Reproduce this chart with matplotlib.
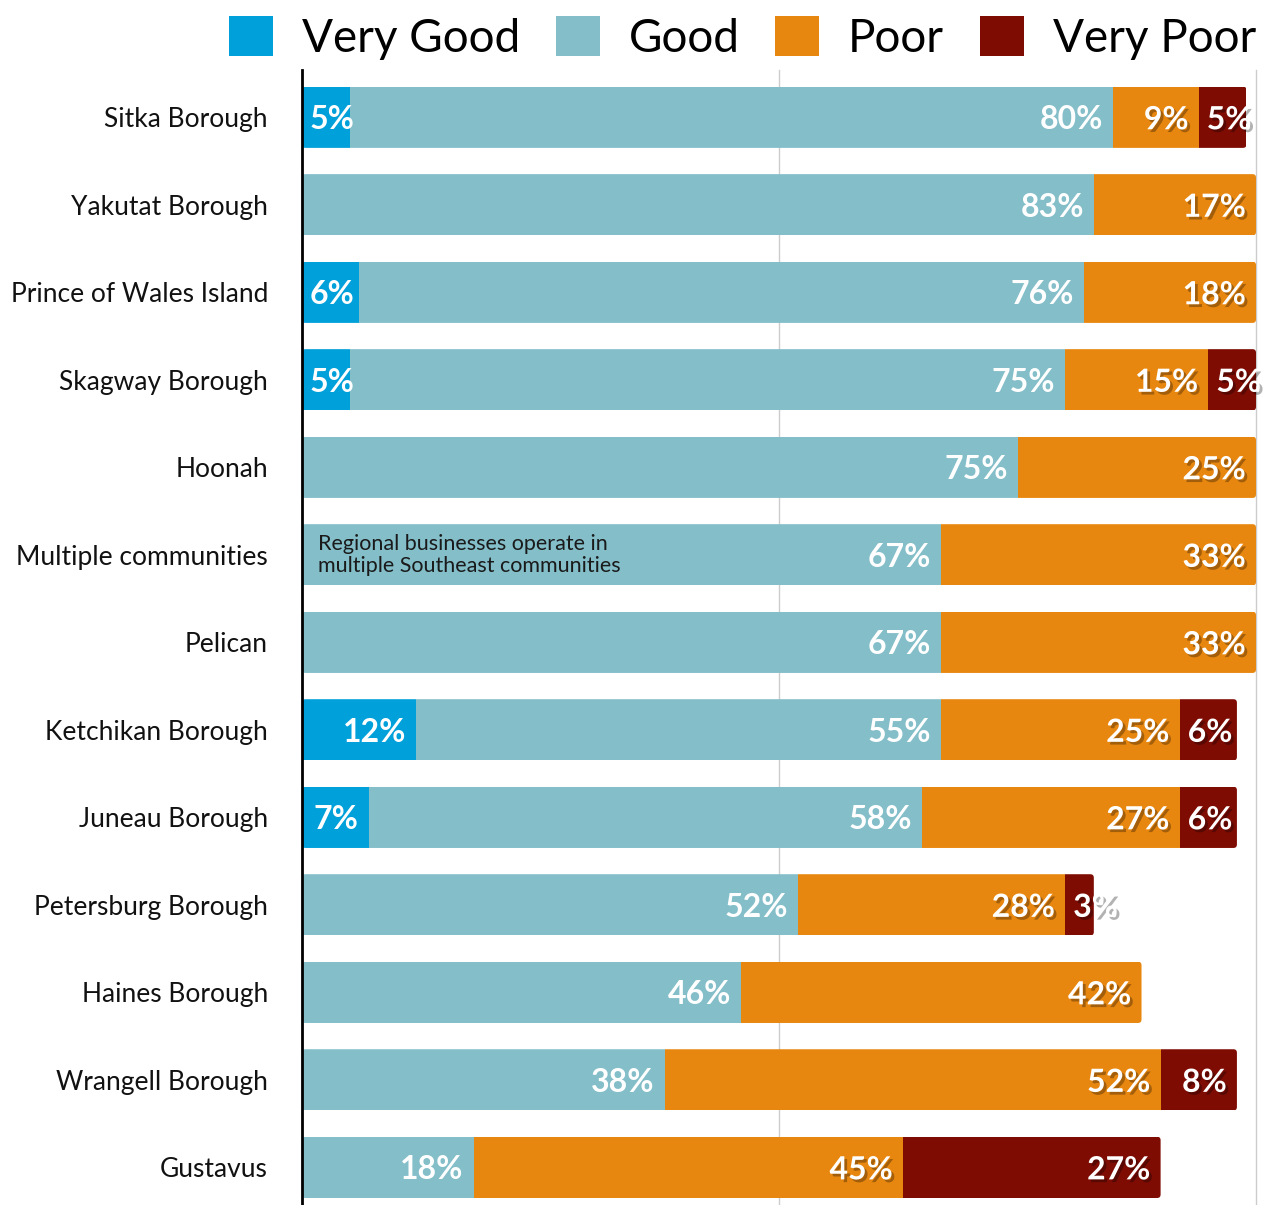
import numpy as np
import matplotlib
matplotlib.use('Agg')
import matplotlib.pyplot as plt
import matplotlib.patheffects as pe
from matplotlib.patches import Patch, FancyBboxPatch

communities = ['Sitka Borough', 'Yakutat Borough', 'Prince of Wales Island',
               'Skagway Borough', 'Hoonah', 'Multiple communities', 'Pelican',
               'Ketchikan Borough', 'Juneau Borough', 'Petersburg Borough',
               'Haines Borough', 'Wrangell Borough', 'Gustavus']
very_good = [5, 0, 6, 5, 0, 0, 0, 12, 7, 0, 0, 0, 0]
good = [80, 83, 76, 75, 75, 67, 67, 55, 58, 52, 46, 38, 18]
poor = [9, 17, 18, 15, 25, 33, 33, 25, 27, 28, 42, 52, 45]
very_poor = [5, 0, 0, 5, 0, 0, 0, 6, 6, 3, 0, 8, 27]
series_names = ['Very Good', 'Good', 'Poor', 'Very Poor']
colors = ['#00A0DA', '#83BEC9', '#E8870F', '#7E0C03']
note_row = 'Multiple communities'
note_text = 'Regional businesses operate in\nmultiple Southeast communities'

plt.rcParams['font.family'] = ['Lato', 'DejaVu Sans']

W, H = 1266, 1205
fig = plt.figure(figsize=(W / 100, H / 100), dpi=100)
ax = fig.add_axes([302 / W, 0, 954 / W, 1 - 70 / H])

n = len(communities)
y = np.arange(n)
bar_h = 0.70
left = np.zeros(n)
segs = []
containers = []
for name, vals, col in zip(series_names, [very_good, good, poor, very_poor], colors):
    v = np.array(vals, dtype=float)
    bc = ax.barh(y, v, left=left, height=bar_h, color=col, label=name, zorder=2)
    containers.append(bc)
    segs.append((name, v, left.copy()))
    left = left + v
totals = left

ax.set_xlim(0, 100)
ax.set_ylim(n - 1 + 0.43, -0.54)
ax.set_xticks([50, 100])
ax.xaxis.grid(True, color='#cccccc', lw=1)
for gl in ax.get_xgridlines():
    gl.set_clip_on(False)
ax.set_axisbelow(True)
ax.tick_params(axis='x', length=0, labelbottom=False)
ax.set_yticks(y)
ax.set_yticklabels(communities, fontsize=19, color='#111111')
ax.tick_params(axis='y', length=0, pad=24.5)
for s in ['top', 'right', 'bottom']:
    ax.spines[s].set_visible(False)
ax.spines['left'].set_color('black')
ax.spines['left'].set_linewidth(2)
ax.spines['left'].set_zorder(5)

# rounded outline of each stacked bar (clip the segments)
fig.canvas.draw()
px_x = ax.transData.transform((1, 0))[0] - ax.transData.transform((0, 0))[0]
px_y = abs(ax.transData.transform((0, 1))[1] - ax.transData.transform((0, 0))[1])
aspect = px_x / px_y
r = 3.5 / px_x
for i in range(n):
    clip = FancyBboxPatch((0, y[i] - bar_h / 2), totals[i], bar_h,
                          boxstyle=f'round,pad=0,rounding_size={r}',
                          mutation_aspect=aspect, transform=ax.transData,
                          facecolor='none', edgecolor='none')
    for bc in containers:
        bc.patches[i].set_clip_path(clip)

# note
ax.annotate(note_text, xy=(0, y[communities.index(note_row)]), xytext=(11.5, 0),
            textcoords='offset points', ha='left', va='center', fontsize=15.5,
            color='#1a1a1a', linespacing=1.1, zorder=4)

# value labels
renderer = fig.canvas.get_renderer()
inv = ax.transData.inverted()
for name, v, lft in segs:
    shadow = name in ('Poor', 'Very Poor')
    for i in range(n):
        if v[i] <= 0:
            continue
        t = ax.text(lft[i] + v[i], y[i], f'{int(v[i])}%', ha='right', va='center_baseline',
                    fontsize=23, fontweight='bold', color='white', zorder=6)
        if shadow:
            t.set_path_effects([pe.withSimplePatchShadow(offset=(2, -2),
                                                         shadow_rgbFace='black', alpha=0.3)])
        w = t.get_window_extent(renderer).width
        sx = ax.transData.transform((lft[i], y[i]))[0]
        ex = ax.transData.transform((lft[i] + v[i], y[i]))[0]
        rx = max(ex - 10, sx + 8 + w)
        t.set_x(inv.transform((rx, 0))[0])

handles = [Patch(facecolor=c, edgecolor='none') for c in colors]
ax.legend(handles, series_names, loc='lower right', bbox_to_anchor=(1.0, 1.0 + 10 / 1135),
          ncol=4, frameon=False, fontsize=33, handlelength=0.96, handleheight=0.98,
          handletextpad=0.63, columnspacing=0.78, borderpad=0, borderaxespad=0)

fig.savefig('out.png', dpi=100)
